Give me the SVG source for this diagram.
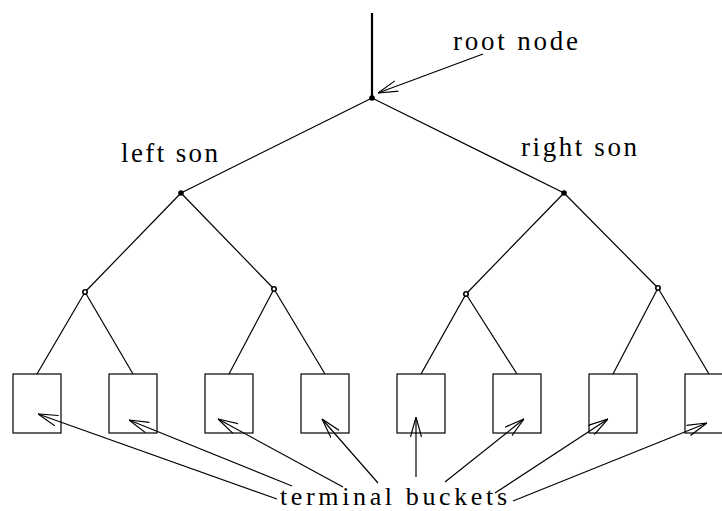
<svg xmlns="http://www.w3.org/2000/svg" width="722" height="511" viewBox="0 0 722 511">
<style>
.e{stroke:#000;stroke-width:1.2;fill:none}
.b{stroke:#000;stroke-width:1.2;fill:none}
.a{stroke:#000;stroke-width:1.2;fill:none;marker-end:url(#ah)}
</style>
<defs>
<marker id="ah" markerUnits="userSpaceOnUse" viewBox="0 0 20 12" markerWidth="20" markerHeight="12" refX="20" refY="6" orient="auto">
<path d="M0,0.5 L20,6 L0,11.5" fill="none" stroke="#000" stroke-width="1.2"/>
</marker>
</defs>
<rect width="722" height="511" fill="#fff"/>
<g id="connectors">
<line x1="372" y1="13" x2="372" y2="98" stroke="#000" stroke-width="2.2"/>
<line class="e" x1="372" y1="98" x2="181" y2="193"/>
<line class="e" x1="372" y1="98" x2="564" y2="193"/>
<line class="e" x1="181" y1="193" x2="85" y2="292"/>
<line class="e" x1="181" y1="193" x2="274" y2="289"/>
<line class="e" x1="564" y1="193" x2="466" y2="294"/>
<line class="e" x1="564" y1="193" x2="658" y2="288"/>
<line class="e" x1="85" y1="292" x2="37" y2="374"/>
<line class="e" x1="85" y1="292" x2="133" y2="374"/>
<line class="e" x1="274" y1="289" x2="229" y2="374"/>
<line class="e" x1="274" y1="289" x2="325" y2="374"/>
<line class="e" x1="466" y1="294" x2="421" y2="374"/>
<line class="e" x1="466" y1="294" x2="517" y2="374"/>
<line class="e" x1="658" y1="288" x2="613" y2="374"/>
<line class="e" x1="658" y1="288" x2="709" y2="374"/>
<line class="a" x1="483" y1="54" x2="378" y2="93"/>
<line class="a" x1="277" y1="499" x2="38" y2="414"/>
<line class="a" x1="292" y1="486" x2="129" y2="420"/>
<line class="a" x1="343" y1="487" x2="218" y2="419"/>
<line class="a" x1="378" y1="483" x2="322" y2="419"/>
<line class="a" x1="416" y1="477" x2="416" y2="417"/>
<line class="a" x1="445" y1="482" x2="524" y2="419"/>
<line class="a" x1="495" y1="493" x2="608" y2="419"/>
<line class="a" x1="513" y1="501" x2="707" y2="423"/>
</g>
<g id="root"><circle cx="372" cy="98" r="2.8" fill="#000"/></g>
<g id="left-son"><circle cx="181" cy="193" r="2.8" fill="#000"/></g>
<g id="right-son"><circle cx="564" cy="193" r="2.8" fill="#000"/></g>
<g id="n-ll"><circle cx="85" cy="292" r="2.2" fill="#fff" stroke="#000" stroke-width="1.6"/></g>
<g id="n-lr"><circle cx="274" cy="289" r="2.2" fill="#fff" stroke="#000" stroke-width="1.6"/></g>
<g id="n-rl"><circle cx="466" cy="294" r="2.2" fill="#fff" stroke="#000" stroke-width="1.6"/></g>
<g id="n-rr"><circle cx="658" cy="288" r="2.2" fill="#fff" stroke="#000" stroke-width="1.6"/></g>
<g id="bucket1"><rect class="b" x="13" y="374" width="48" height="59"/></g>
<g id="bucket2"><rect class="b" x="109" y="374" width="48" height="59"/></g>
<g id="bucket3"><rect class="b" x="205" y="374" width="48" height="59"/></g>
<g id="bucket4"><rect class="b" x="301" y="374" width="48" height="59"/></g>
<g id="bucket5"><rect class="b" x="397" y="374" width="48" height="59"/></g>
<g id="bucket6"><rect class="b" x="493" y="374" width="48" height="59"/></g>
<g id="bucket7"><rect class="b" x="589" y="374" width="48" height="59"/></g>
<g id="bucket8"><rect class="b" x="685" y="374" width="48" height="59"/></g>
<g id="labels" font-family="Liberation Serif, DejaVu Serif, serif" font-size="27" fill="#000">
<text x="453" y="50" textLength="125" lengthAdjust="spacing">root node</text>
<text x="121" y="162" textLength="97" lengthAdjust="spacing">left son</text>
<text x="521" y="156" textLength="116" lengthAdjust="spacing">right son</text>
<text x="280" y="505" font-size="26" textLength="227" lengthAdjust="spacing">terminal buckets</text>
</g>
</svg>
